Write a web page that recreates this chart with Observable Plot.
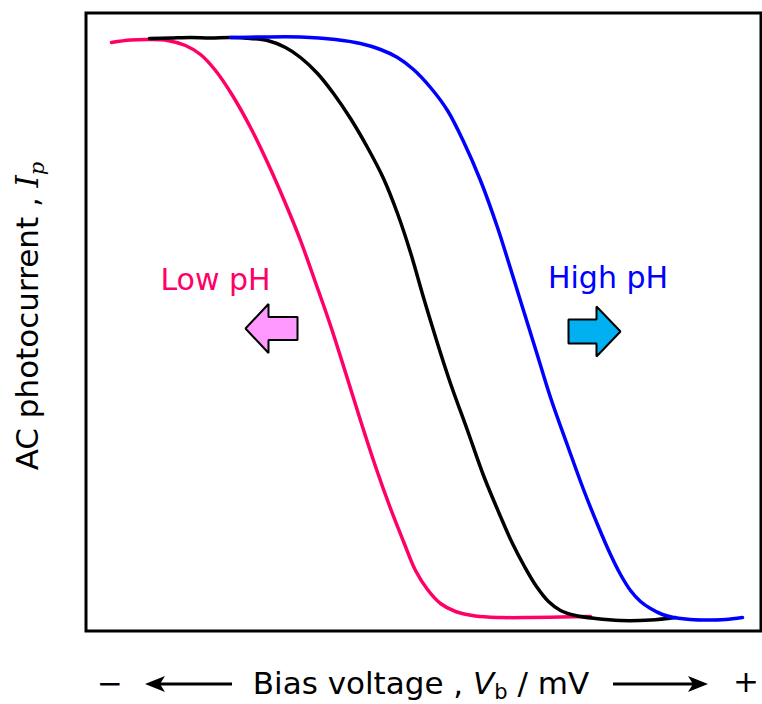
<!DOCTYPE html>
<html><head><meta charset="utf-8">
<script src="https://cdn.jsdelivr.net/npm/d3@7"></script>
<script src="https://cdn.jsdelivr.net/npm/@observablehq/plot@0.6"></script>
<style>body{margin:0;background:#fff} #chart{width:762px;height:704px}</style>
</head><body><div id="chart"></div>
<script>
// Bias voltage (arbitrary units) and AC photocurrent (arbitrary units)
const lowPhX  = [25,44,64,81,99,114,129,146,164,181,199,214,229,244,259,274,289,304,317,329,341,354,369,389,414,444,474,504];
const lowPhY  = [588,590.5,591,590,585,576,560,535,503,468,427,390,348,305,258,210,164,122,89,60,41,27,19,14.5,13,13,13.5,14];
const refX    = [63,84,104,124,144,164,181,199,214,231,247,264,281,297,311,324,337,351,364,381,397,414,426,438,450,462,474,489,509,534,564,589];
const refY    = [592,592.5,593,592.5,593,592,590,583,573,557,537,512,483,452,417,378,333,287,247,200,155,114,87,64,44,29,20,15,12,10,10.5,13];
const highPhX = [144,174,214,249,274,294,311,327,344,361,377,394,411,424,437,451,464,481,497,511,524,534,544,554,564,576,587,604,621,639,656];
const highPhY = [593,593.5,593.5,591,587,581,573,561,543,520,489,450,403,362,320,275,233,185,141,106,76,56,40,29,22,16,13,11,10.5,11,13];

const seriesNames = ["low", "ref", "high"];
const seriesColors = ["#ff0066", "#000000", "#0000ff"];
const labelTexts = ["Low pH", "High pH"];

const rows = [
  ...lowPhX.map((x, i) => ({series: "low", x, y: lowPhY[i]})),
  ...refX.map((x, i) => ({series: "ref", x, y: refY[i]})),
  ...highPhX.map((x, i) => ({series: "high", x, y: highPhY[i]}))
];

// block arrow shape (annotation), in data units
function blockArrow(tipX, tipY, dir, headLen, headHalf, shaftLen, shaftHalf) {
  const b = tipX - dir * headLen, e = b - dir * shaftLen;
  return [
    {x: tipX, y: tipY}, {x: b, y: tipY + headHalf}, {x: b, y: tipY + shaftHalf},
    {x: e, y: tipY + shaftHalf}, {x: e, y: tipY - shaftHalf}, {x: b, y: tipY - shaftHalf},
    {x: b, y: tipY - headHalf}
  ];
}
const leftArrow = blockArrow(159, 302, -1, 23, 24.5, 29, 11.5);
const rightArrow = blockArrow(534, 299, 1, 24, 25, 28, 12);

const labels = [
  {text: labelTexts[0], x: 129, y: 341, color: seriesColors[0]},
  {text: labelTexts[1], x: 521.5, y: 343, color: seriesColors[2]}
];

const chart = Plot.plot({
  width: 762, height: 704,
  marginLeft: 85.5, marginRight: 1.5, marginTop: 12.5, marginBottom: 73.5,
  x: {domain: [-0.5, 674.5], axis: null},
  y: {domain: [-0.5, 617.5], axis: null},
  color: {domain: seriesNames, range: seriesColors},
  style: {fontFamily: "'DejaVu Sans', Verdana, sans-serif", background: "white"},
  marks: [
    Plot.line(rows, {x: "x", y: "y", z: "series", stroke: "series", strokeWidth: 3.5, curve: "catmull-rom"}),
    Plot.frame({stroke: "black", strokeWidth: 3}),
    Plot.line(leftArrow, {x: "x", y: "y", curve: "linear-closed", fill: "#ff99ff", stroke: "black", strokeWidth: 2, strokeLinejoin: "miter"}),
    Plot.line(rightArrow, {x: "x", y: "y", curve: "linear-closed", fill: "#00b0f0", stroke: "black", strokeWidth: 2, strokeLinejoin: "miter"}),
    Plot.text(labels, {x: "x", y: "y", text: "text", fill: "color", fontSize: 30, lineAnchor: "bottom", textAnchor: "middle"})
  ]
});
document.getElementById("chart").appendChild(chart);

const svg = d3.select(chart);
const F = "'DejaVu Sans', Verdana, sans-serif";
// X axis label
const xl = svg.append("text").attr("x", 421).attr("y", 694).attr("text-anchor", "middle")
  .attr("font-family", F).attr("font-size", 31).attr("fill", "black");
xl.append("tspan").text("Bias voltage , ");
xl.append("tspan").attr("font-style", "italic").text("V");
xl.append("tspan").attr("font-size", 21).attr("dy", 4.5).text("b");
xl.append("tspan").attr("dy", -4.5).text(" / mV");
svg.append("text").attr("x", 110).attr("y", 694).attr("text-anchor", "middle")
  .attr("font-family", F).attr("font-size", 31).text("\u2212");
svg.append("text").attr("x", 746).attr("y", 692).attr("text-anchor", "middle")
  .attr("font-family", F).attr("font-size", 31).text("+");
// bottom arrows
function lineArrow(x0, x1, y) {
  const d = Math.sign(x1 - x0);
  svg.append("line").attr("x1", x0).attr("x2", x1 - d * 10).attr("y1", y).attr("y2", y)
    .attr("stroke", "black").attr("stroke-width", 3);
  svg.append("path").attr("d", `M${x1},${y} L${x1 - d * 20},${y - 8} L${x1 - d * 15},${y} L${x1 - d * 20},${y + 8} Z`)
    .attr("fill", "black");
}
lineArrow(232, 145, 684);
lineArrow(613, 708, 684);
// Y axis label
const yl = svg.append("text").attr("transform", "translate(38,316) rotate(-90)").attr("text-anchor", "middle")
  .attr("font-family", F).attr("font-size", 31).attr("fill", "black");
yl.append("tspan").text("AC photocurrent , ");
yl.append("tspan").attr("font-family", "'DejaVu Serif', serif").attr("font-style", "italic").text("I");
yl.append("tspan").attr("font-family", "'DejaVu Serif', serif").attr("font-style", "italic").attr("font-size", 21).attr("dy", 6).text("p");
</script>
</body></html>
